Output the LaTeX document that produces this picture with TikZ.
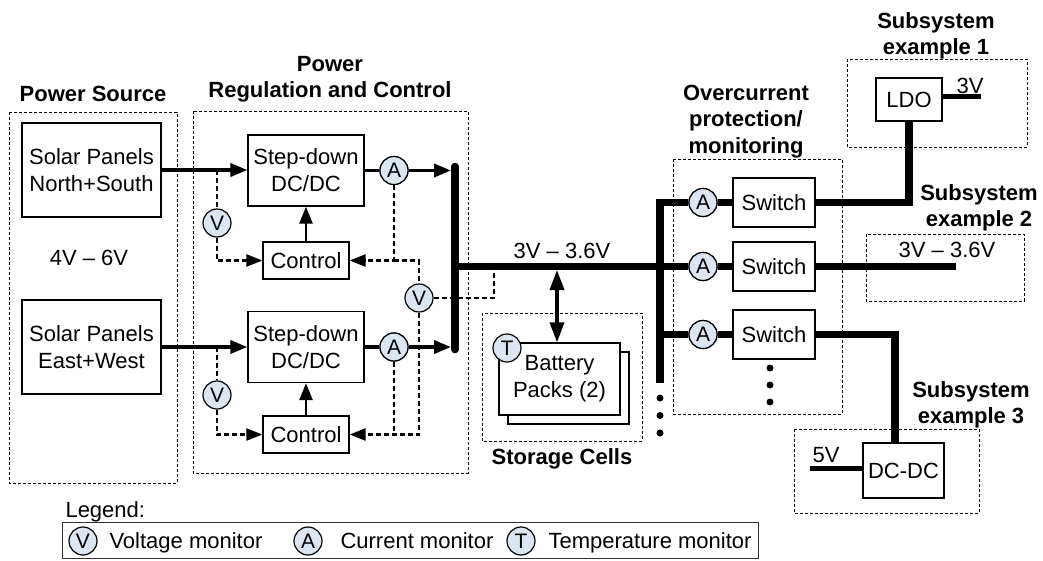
\documentclass[tikz,border=0pt]{standalone}
\usepackage{fontspec}
\setmainfont{Liberation Sans}
\usetikzlibrary{arrows.meta}
\definecolor{monfill}{RGB}{220,230,242}
\begin{document}
\begin{tikzpicture}[x=1pt,y=-1pt,
  font=\fontsize{22}{27}\selectfont,
  blk/.style={draw, line width=1.2pt, fill=white, inner sep=0pt, align=center},
  mon/.style={circle, draw, line width=1.2pt, fill=monfill, minimum size=28pt, inner sep=0pt, font=\fontsize{21}{25}\selectfont},
  grp/.style={draw, line width=0.9pt, dash pattern=on 3pt off 2pt},
  ttl/.style={font=\fontsize{22}{27}\selectfont\bfseries, anchor=base},
  lbl/.style={anchor=base},
  pwr/.style={line width=3.5pt},
  ctl/.style={line width=2.5pt},
  bus/.style={line width=7.5pt},
  thin5/.style={line width=5pt},
  sig/.style={line width=2.2pt, dash pattern=on 5pt off 3pt},
  tip/.style={-{Triangle[length=17pt,width=13pt]}},
  stip/.style={-{Triangle[length=16pt,width=12pt]}},
  dot/.style={circle, fill, inner sep=0pt, minimum size=7pt},
]
\useasboundingbox (0,0) rectangle (1043,560);

% group boxes
\draw[grp] (9,112) rectangle (177,483);
\draw[grp] (193,111) rectangle (468,473);
\draw[grp] (482,313) rectangle (642,441);
\draw[grp] (673,159) rectangle (842,414);
\draw[grp] (847,59) rectangle (1027,147);
\draw[grp] (866,234) rectangle (1024,301);
\draw[grp] (794,429) rectangle (979,513);

% titles
\node[ttl] (tps) at (93,101) {Power Source};
\node[ttl] (tpr1) at (330,71) {Power};
\node[ttl] (tpr2) at (330,97) {Regulation and Control};
\node[ttl] (toc1) at (746,100) {Overcurrent};
\node[ttl] (toc2) at (746,126.5) {protection/};
\node[ttl] (toc3) at (746,153) {monitoring};
\node[ttl] (ts11) at (936,28) {Subsystem};
\node[ttl] (ts12) at (936,54) {example 1};
\node[ttl] (ts21) at (979,200) {Subsystem};
\node[ttl] (ts22) at (979,226) {example 2};
\node[ttl] (ts31) at (971,397) {Subsystem};
\node[ttl] (ts32) at (971,423) {example 3};
\node[ttl] (tsc) at (562,464) {Storage Cells};

% blocks
\node[blk, minimum width=139pt, minimum height=94pt] (sp1) at (91.5,170) {Solar Panels\\North+South};
\node[blk, minimum width=139pt, minimum height=94pt] (sp2) at (91.5,347) {Solar Panels\\East+West};
\node[lbl] (vin) at (89,265) {4V – 6V};
\node[blk, minimum width=116pt, minimum height=71pt] (sd1) at (306,170.5) {Step-down\\DC/DC};
\node[blk, minimum width=116pt, minimum height=71pt] (sd2) at (306,347) {Step-down\\DC/DC};
\node[blk, minimum width=86pt, minimum height=37pt] (ct1) at (306,260.5) {Control};
\node[blk, minimum width=86pt, minimum height=37pt] (ct2) at (306,434.5) {Control};
\node[blk, minimum width=82pt, minimum height=49pt] (sw1) at (774,202.5) {Switch};
\node[blk, minimum width=82pt, minimum height=49pt] (sw2) at (774,266.5) {Switch};
\node[blk, minimum width=82pt, minimum height=49pt] (sw3) at (774,334.5) {Switch};
\node[blk, minimum width=66pt, minimum height=43pt] (ldo) at (909,99.5) {LDO};
\node[blk, minimum width=81pt, minimum height=55pt] (dcdc) at (903.5,470.5) {DC-DC};

% monitors
\node[mon] (v1) at (217,223) {V};
\node[mon] (v2) at (217,395) {V};
\node[mon] (a1) at (394,170.5) {A};
\node[mon] (a2) at (394,347) {A};
\node[mon] (vb) at (419,298) {V};
\node[mon] (as1) at (703,202.5) {A};
\node[mon] (as2) at (703,266.5) {A};
\node[mon] (as3) at (703,334.5) {A};

% coordinates
\coordinate (bt) at (455,166.5);
\coordinate (bb) at (455,349.5);
\coordinate (bm) at (455,266.5);
\coordinate (bl1) at (451,170.5);
\coordinate (bl2) at (451,347);
\coordinate (vtap) at (494,266.5);
\coordinate (b2t) at (660,202.5);
\coordinate (b2b) at (660,383);
\coordinate (batin) at (557,270);
\coordinate (v3end) at (981,96);
\coordinate (s2end) at (956,266.5);
\coordinate (v5end) at (810,468);

% signal (dashed) lines
\draw[sig] (v1 |- sp1.east) -- (v1.north);
\draw[sig,stip] (v1.south) |- (ct1.west);
\draw[sig,stip] (a1.south) |- (ct1.east);
\draw[sig] (a1 |- ct1.east) -| (vb.north);
\draw[sig] (vb.east) -| (vtap);
\draw[sig,stip] (vb.south) |- (ct2.east);
\draw[sig] (a2.south) -- (a2 |- ct2.east);
\draw[sig] (v2 |- sp2.east) -- (v2.north);
\draw[sig,stip] (v2.south) |- (ct2.west);

% power lines
\draw[pwr,tip] (sp1.east) -- (sp1.east -| sd1.west);
\draw[pwr,tip] (sp2.east) -- (sd2.west);
\draw[pwr] (sd1.east) -- (a1.west);
\draw[pwr,tip] (a1.east) -- (bl1);
\draw[pwr] (sd2.east) -- (a2.west);
\draw[pwr,tip] (a2.east) -- (bl2);
\draw[ctl,tip] (ct1.north) -- (sd1.south);
\draw[ctl,tip] (ct2.north) -- (sd2.south);

% buses
\draw[bus] (bm) -- (as2.west);
\draw[bus, line cap=round] (bt) -- (bb);
\draw[bus] (as1.west) -- (b2t) -- (b2b);
\draw[bus] (b2b |- as3) -- (as3.west);
\draw[bus] (as1.east) -- (sw1.west);
\draw[bus] (as2.east) -- (sw2.west);
\draw[bus] (as3.east) -- (sw3.west);
\draw[bus] (sw1.east) -| (ldo.south);
\draw[bus] (sw2.east) -- (s2end);
\draw[bus] (sw3.east) -| ([xshift=-8.5pt]dcdc.north);
\draw[thin5] (ldo.east |- v3end) -- (v3end);
\draw[thin5] (v5end) -- (v5end -| dcdc.west);
\node[lbl] (l3v) at (970,93) {3V};
\node[lbl] (l33) at (947,257) {3V – 3.6V};
\node[lbl] (l5v) at (826,462) {5V};
\node[lbl] (lbus) at (562,258) {3V – 3.6V};

% redraw monitors/blocks on top of buses
\node[mon] at (as1) {A};
\node[mon] at (as2) {A};
\node[mon] at (as3) {A};
\node[mon] at (a1) {A};
\node[mon] at (a2) {A};
\node[blk, minimum width=82pt, minimum height=49pt] at (sw1) {Switch};
\node[blk, minimum width=82pt, minimum height=49pt] at (sw2) {Switch};
\node[blk, minimum width=82pt, minimum height=49pt] at (sw3) {Switch};
\node[blk, minimum width=66pt, minimum height=43pt] at (ldo) {LDO};
\node[blk, minimum width=81pt, minimum height=55pt] at (dcdc) {DC-DC};

% storage
\node[blk, minimum width=121pt, minimum height=72pt] (batb) at (568.5,388) {};
\node[blk, minimum width=121pt, minimum height=72pt] (bat) at (559.5,379) {Battery\\Packs (2)};
\node[mon] (tm) at (507,348) {T};
\draw[pwr, {Triangle[length=20pt,width=14pt]}-{Triangle[length=20pt,width=14pt]}] (batin) -- (batin |- bat.north);

% dots
\node[dot] (d1) at (660,398) {};
\node[dot] (d2) at (660,415.5) {};
\node[dot] (d3) at (660,433) {};
\node[dot] (e1) at (770,368) {};
\node[dot] (e2) at (770,385) {};
\node[dot] (e3) at (770,402) {};

% legend
\node[anchor=base west] (lg) at (62,517) {Legend:};
\draw[line width=1pt, draw=black!80] (62,522) rectangle (758,558);
\node[mon] (lv) at (83,541) {V};
\node[anchor=base west] (lvt) at (106,548) {Voltage monitor};
\node[mon] (la) at (308,541) {A};
\node[anchor=base west] (lat) at (337,548) {Current monitor};
\node[mon] (lt) at (521,541) {T};
\node[anchor=base west] (ltt) at (545,548) {Temperature monitor};
\end{tikzpicture}
\end{document}
